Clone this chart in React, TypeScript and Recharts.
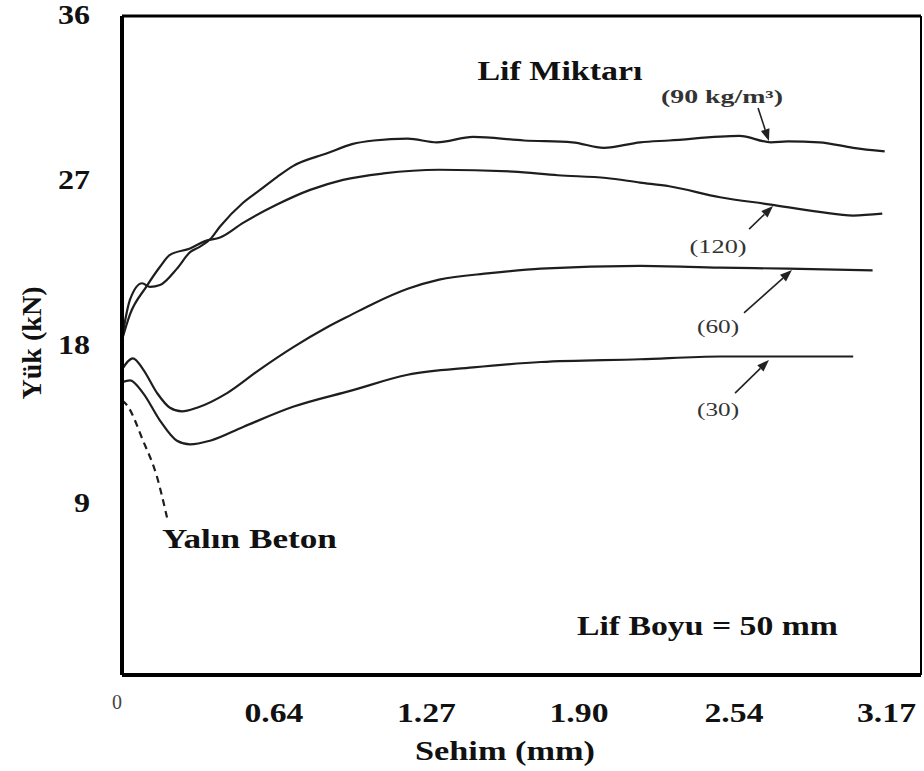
import React from 'react';
import { LineChart, Line, XAxis, YAxis, ReferenceLine, ReferenceDot } from 'recharts';

// load (kN) vs deflection (mm)
const fiber90: [number, number][] = [
  [0, 18.4], [0.033, 20.5], [0.083, 21.4], [0.116, 21.2], [0.157, 21.3], [0.227, 22.2],
  [0.281, 23.1], [0.322, 23.4], [0.364, 23.8], [0.405, 24.5], [0.5, 25.8], [0.57, 26.5],
  [0.64, 27.2], [0.706, 27.8], [0.847, 28.5], [0.95, 29.0], [1.04, 29.2], [1.18, 29.3],
  [1.3, 29.1], [1.45, 29.4], [1.66, 29.2], [1.86, 29.1], [1.99, 28.8], [2.14, 29.1],
  [2.26, 29.2], [2.55, 29.45], [2.68, 29.1], [2.75, 29.15], [2.88, 29.1], [3.02, 28.8], [3.15, 28.6],
];
const fiber120: [number, number][] = [
  [0, 18.3], [0.033, 19.7], [0.1, 21.2], [0.157, 22.3], [0.198, 22.95], [0.281, 23.3],
  [0.343, 23.7], [0.405, 23.9], [0.5, 24.7], [0.64, 25.7], [0.777, 26.5], [0.913, 27.05],
  [1.08, 27.4], [1.31, 27.6], [1.615, 27.5], [1.8, 27.3], [2.0, 27.15], [2.14, 26.9],
  [2.26, 26.7], [2.47, 26.1], [2.68, 25.7], [2.88, 25.3], [3.02, 25.1], [3.14, 25.2],
];
const fiber60: [number, number][] = [
  [0, 16.7], [0.045, 17.3], [0.087, 16.7], [0.145, 15.4], [0.198, 14.6], [0.248, 14.4],
  [0.31, 14.6], [0.434, 15.4], [0.57, 16.7], [0.706, 17.9], [0.847, 19.0], [0.95, 19.7],
  [1.04, 20.3], [1.18, 21.1], [1.31, 21.6], [1.52, 21.95], [1.73, 22.2], [2.14, 22.35],
  [2.47, 22.25], [2.75, 22.2], [3.1, 22.1],
];
const fiber30: [number, number][] = [
  [0, 16.0], [0.033, 16.1], [0.087, 15.4], [0.157, 13.9], [0.227, 12.8], [0.281, 12.6],
  [0.364, 12.8], [0.5, 13.55], [0.706, 14.65], [0.95, 15.55], [1.18, 16.4], [1.45, 16.8],
  [1.73, 17.1], [2.14, 17.25], [2.47, 17.4], [3.02, 17.4],
];
const plainConcrete: [number, number][] = [
  [0, 15.0], [0.02, 14.75], [0.087, 12.8], [0.145, 10.8], [0.186, 8.6],
];

const xTicks = [0, 0.64, 1.27, 1.9, 2.54, 3.17];
const xTickLabels = ['0', '0.64', '1.27', '1.90', '2.54', '3.17'];
const yTicks = [9, 18, 27, 36];

// text notes: [x, y, text, kind]
const notes: [number, number, string, string][] = [
  [1.809, 32.5, 'Lif Miktarı', 'big'],
  [2.478, 31.25, '(90 kg/m³)', 'small90'],
  [2.462, 23.05, '(120)', 'small'],
  [2.462, 18.68, '(60)', 'small'],
  [2.462, 14.15, '(30)', 'small'],
  [0.165, 6.94, 'Yalın Beton', 'start'],
  [1.879, 2.19, 'Lif Boyu = 50 mm', 'start'],
];
const noteWidths: Record<string, number> = {
  'Lif Miktarı': 165, '(90 kg/m³)': 122, '(120)': 57, '(60)': 42, '(30)': 42,
  'Yalın Beton': 175, 'Lif Boyu = 50 mm': 261,
};

// arrows: tail -> tip
const arrows = [
  [[2.627, 30.97], [2.672, 29.17]],
  [[2.59, 24.36], [2.689, 25.62]],
  [[2.569, 19.78], [2.767, 22.12]],
  [[2.532, 15.4], [2.672, 17.21]],
];

const toPts = (arr: [number, number][]) => arr.map(([x, y]) => ({ x, y }));

const FONT = '"Liberation Serif", "Times New Roman", serif';

const XTick = (props: any) => {
  const { x, y, payload } = props;
  const i = xTicks.indexOf(payload.value);
  const label = xTickLabels[i] ?? String(payload.value);
  if (label === '0') {
    return (
      <text x={x - 5} y={y + 34} textAnchor="middle" fontFamily={FONT} fontSize={20} fill="#444">0</text>
    );
  }
  return (
    <text x={x - 3} y={y + 47} textAnchor="middle" fontFamily={FONT} fontWeight="bold" fontSize={27}
      fill="#111" textLength={59} lengthAdjust="spacingAndGlyphs">{label}</text>
  );
};

const YTick = (props: any) => {
  const { x, y, payload } = props;
  const label = String(payload.value);
  return (
    <text x={x} y={y + (payload.value === 9 ? 2 : 8)} textAnchor="end" fontFamily={FONT} fontWeight="bold"
      fontSize={27} fill="#111" textLength={label.length * 16} lengthAdjust="spacingAndGlyphs">{label}</text>
  );
};

const Arrow = (p: any) => {
  const { x1, y1, x2, y2 } = p;
  const ang = Math.atan2(y2 - y1, x2 - x1);
  const L = 12, W = 4.5;
  const bx = x2 - L * Math.cos(ang), by = y2 - L * Math.sin(ang);
  const px = -Math.sin(ang) * W, py = Math.cos(ang) * W;
  return (
    <g>
      <line x1={x1} y1={y1} x2={bx} y2={by} stroke="#222" strokeWidth={1.6} />
      <polygon points={`${x2},${y2} ${bx + px},${by + py} ${bx - px},${by - py}`} fill="#222" />
    </g>
  );
};

const Note = (text: string, kind: string) => (p: any) => {
  const { cx, cy } = p;
  const big = kind === 'big' || kind === 'start';
  return (
    <text x={cx} y={cy} textAnchor={kind === 'start' ? 'start' : 'middle'} fontFamily={FONT}
      fontWeight={big || kind === 'small90' ? 'bold' : 'normal'}
      fontSize={big ? 27 : 18} fill={big ? '#111' : '#333'}
      textLength={noteWidths[text]} lengthAdjust="spacingAndGlyphs">{text}</text>
  );
};

const lineProps = {
  type: 'monotone' as const,
  dataKey: 'y',
  stroke: '#1e1e1e',
  strokeWidth: 2.2,
  dot: false,
  activeDot: false,
  isAnimationActive: false,
};

export default function App() {
  return (
    <div style={{ position: 'absolute', left: 0, top: 0, width: 924, height: 771, background: '#fff' }}>
      <LineChart width={924} height={771} margin={{ top: 16, right: 3, left: 62, bottom: 36 }}>
        <XAxis type="number" dataKey="x" domain={[0, 3.3]} ticks={xTicks} allowDecimals
          axisLine={{ stroke: '#000', strokeWidth: 4 }} tickLine={false} tickSize={0} tickMargin={0}
          height={60} tick={<XTick />} interval={0} />
        <YAxis type="number" domain={[0, 36]} ticks={yTicks} width={60}
          axisLine={{ stroke: '#000', strokeWidth: 4 }} tickLine={false} tickSize={0} tickMargin={32}
          tick={<YTick />} interval={0} />
        <ReferenceLine y={36} stroke="#000" strokeWidth={3} />
        <ReferenceLine x={3.3} stroke="#000" strokeWidth={2} />
        <Line {...lineProps} data={toPts(fiber90)} />
        <Line {...lineProps} data={toPts(fiber120)} />
        <Line {...lineProps} data={toPts(fiber60)} />
        <Line {...lineProps} data={toPts(fiber30)} />
        <Line {...lineProps} data={toPts(plainConcrete)} strokeDasharray="7 5" />
        {arrows.map(([a, b], i) => (
          <ReferenceLine key={'a' + i} segment={[{ x: a[0], y: a[1] }, { x: b[0], y: b[1] }]} shape={Arrow} />
        ))}
        {notes.map(([x, y, text, kind]) => (
          <ReferenceDot key={text} x={x} y={y} r={0} shape={Note(text, kind)} />
        ))}
        <text x={41} y={343} transform="rotate(-90 41 343)" textAnchor="middle" fontFamily={FONT}
          fontWeight="bold" fontSize={27} fill="#111" textLength={113} lengthAdjust="spacingAndGlyphs">Yük (kN)</text>
        <text x={505} y={760} textAnchor="middle" fontFamily={FONT} fontWeight="bold" fontSize={27}
          fill="#111" textLength={180} lengthAdjust="spacingAndGlyphs">Sehim (mm)</text>
      </LineChart>
    </div>
  );
}
